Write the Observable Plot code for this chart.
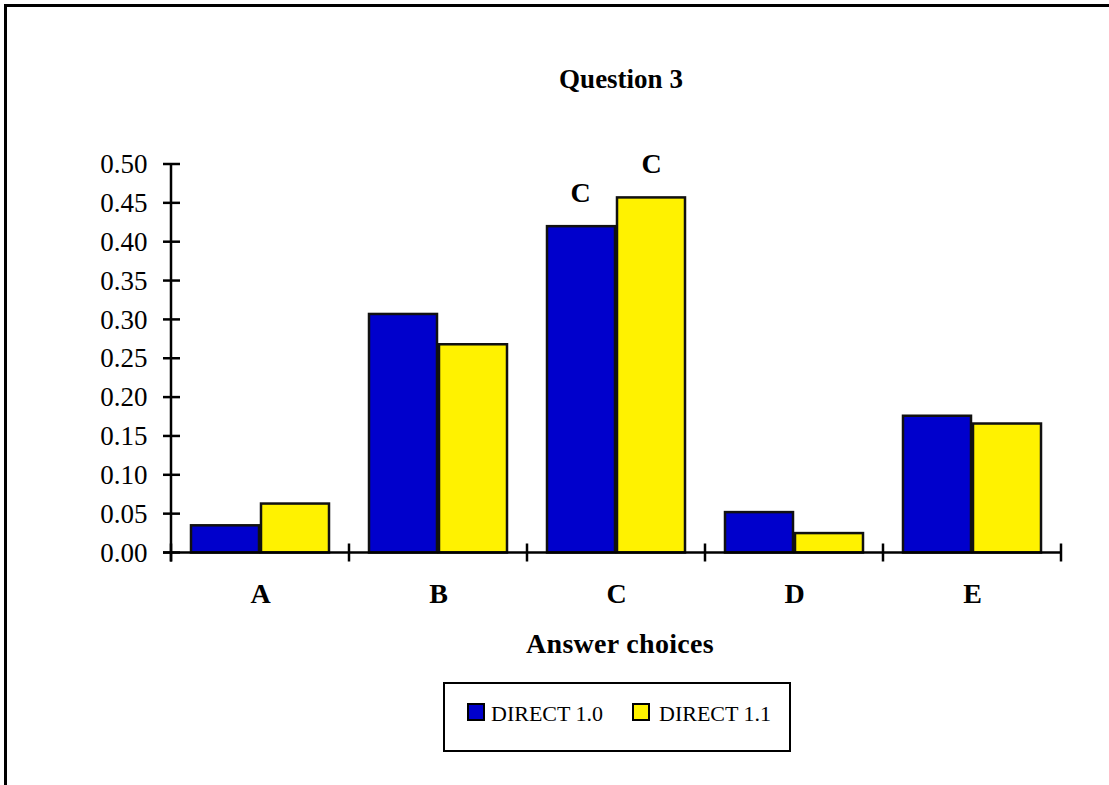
<!DOCTYPE html>
<html>
<head>
<meta charset="utf-8">
<script src="https://cdn.jsdelivr.net/npm/d3@7"></script>
<script src="https://cdn.jsdelivr.net/npm/@observablehq/plot@0.6"></script>
<style>
  html, body { margin: 0; padding: 0; background: #fff; overflow: hidden; }
  #wrap { position: relative; width: 1109px; height: 785px; overflow: hidden; font-family: "Liberation Serif", serif; color: #000; }
  #wrap svg { position: absolute; left: 0; top: 0; }
  .lbl { position: absolute; white-space: nowrap; line-height: 1; }
  .edge { position: absolute; background: #000; }
  #legend { position: absolute; left: 443px; top: 682px; width: 348px; height: 70px; border: 2.5px solid #000; box-sizing: border-box; }
  .sw { position: absolute; width: 18px; height: 18px; border: 2px solid #000; box-sizing: border-box; }
</style>
</head>
<body>
<div id="wrap"></div>
<script>
// ---- data ----
const title = "Question 3";
const xLabel = "Answer choices";
const categories = ["A", "B", "C", "D", "E"];
const seriesNames = ["DIRECT 1.0", "DIRECT 1.1"];
const seriesColors = ["#0000cc", "#fff200"];
const direct10 = [0.035, 0.307, 0.420, 0.052, 0.176];
const direct11 = [0.063, 0.268, 0.457, 0.025, 0.166];
const yTicks = [0, 0.05, 0.10, 0.15, 0.20, 0.25, 0.30, 0.35, 0.40, 0.45, 0.50];
const correctAnswer = "C";

const rows10 = categories.map((c, i) => ({cat: c, value: direct10[i]}));
const rows11 = categories.map((c, i) => ({cat: c, value: direct11[i]}));
const font = "'Liberation Serif', serif";

function axisLines(index, scales) {
  const {x, y} = scales;
  const bw = x.bandwidth();
  const x0 = x(categories[0]);
  const xEnd = x(categories[categories.length - 1]) + bw;
  const y0 = y(0);
  const yTop = y(yTicks[yTicks.length - 1]);
  const g = d3.create("svg:g").attr("stroke", "#000").attr("stroke-width", 2.5).attr("fill", "none");
  g.append("line").attr("x1", x0).attr("x2", x0).attr("y1", yTop).attr("y2", y0 + 9);
  g.append("line").attr("x1", x0 - 8).attr("x2", xEnd).attr("y1", y0).attr("y2", y0);
  for (const t of yTicks) {
    g.append("line").attr("x1", x0 - 8).attr("x2", x0 + 9).attr("y1", y(t)).attr("y2", y(t));
  }
  const bounds = categories.map(c => x(c)).concat([xEnd]);
  for (const b of bounds) {
    g.append("line").attr("x1", b).attr("x2", b).attr("y1", y0 - 9).attr("y2", y0 + 9);
  }
  return g.node();
}

const chart = Plot.plot({
  width: 1109,
  height: 785,
  marginLeft: 170,
  marginRight: 47,
  marginTop: 164,
  marginBottom: 232.5,
  x: {domain: categories, padding: 0},
  y: {domain: [0, 0.5]},
  style: {fontFamily: font, background: "transparent", color: "#000", overflow: "visible"},
  marks: [
    Plot.barY(rows10, {x: "cat", y: "value", fill: seriesColors[0], stroke: "#111", strokeWidth: 2.5, insetLeft: 20, insetRight: 90}),
    Plot.barY(rows11, {x: "cat", y: "value", fill: seriesColors[1], stroke: "#111", strokeWidth: 2.5, insetLeft: 90, insetRight: 20}),
    Plot.text(rows10.filter(d => d.cat === correctAnswer), {x: "cat", y: "value", text: "cat", dx: -36, dy: -34, lineAnchor: "middle", fontSize: 28, fontWeight: "bold", fontFamily: font, fill: "#000"}),
    Plot.text(rows11.filter(d => d.cat === correctAnswer), {x: "cat", y: "value", text: "cat", dx: 35, dy: -34, lineAnchor: "middle", fontSize: 28, fontWeight: "bold", fontFamily: font, fill: "#000"}),
    Plot.axisY(yTicks, {tickSize: 0, tickPadding: 23, tickFormat: d3.format(".2f"), fontSize: 27, fontFamily: font, label: null}),
    Plot.axisX({tickSize: 0, tickPadding: 30, fontSize: 28, fontWeight: "bold", fontFamily: font, label: null}),
    axisLines
  ]
});

const wrap = document.getElementById("wrap");
wrap.appendChild(chart);

function addLabel(text, opts) {
  const d = document.createElement("div");
  d.className = "lbl";
  d.textContent = text;
  Object.assign(d.style, opts);
  wrap.appendChild(d);
  return d;
}
addLabel(title, {left: "621px", top: "66px", transform: "translateX(-50%)", fontSize: "27px", fontWeight: "bold"});
addLabel(xLabel, {left: "620px", top: "630px", transform: "translateX(-50%)", fontSize: "28px", fontWeight: "bold", letterSpacing: "0.3px"});

const legend = document.createElement("div");
legend.id = "legend";
wrap.appendChild(legend);
const swX = [467, 632];
const txX = [491, 659];
seriesNames.forEach((name, i) => {
  const s = document.createElement("div");
  s.className = "sw";
  Object.assign(s.style, {left: swX[i] + "px", top: "703px", background: seriesColors[i]});
  wrap.appendChild(s);
  addLabel(name, {left: txX[i] + "px", top: "703px", fontSize: "22px"});
});

// outer frame: top and left edges only
const topEdge = document.createElement("div");
topEdge.className = "edge";
Object.assign(topEdge.style, {left: "4px", top: "4px", width: "1105px", height: "3px"});
wrap.appendChild(topEdge);
const leftEdge = document.createElement("div");
leftEdge.className = "edge";
Object.assign(leftEdge.style, {left: "4px", top: "4px", width: "3px", height: "781px"});
wrap.appendChild(leftEdge);
</script>
</body>
</html>
